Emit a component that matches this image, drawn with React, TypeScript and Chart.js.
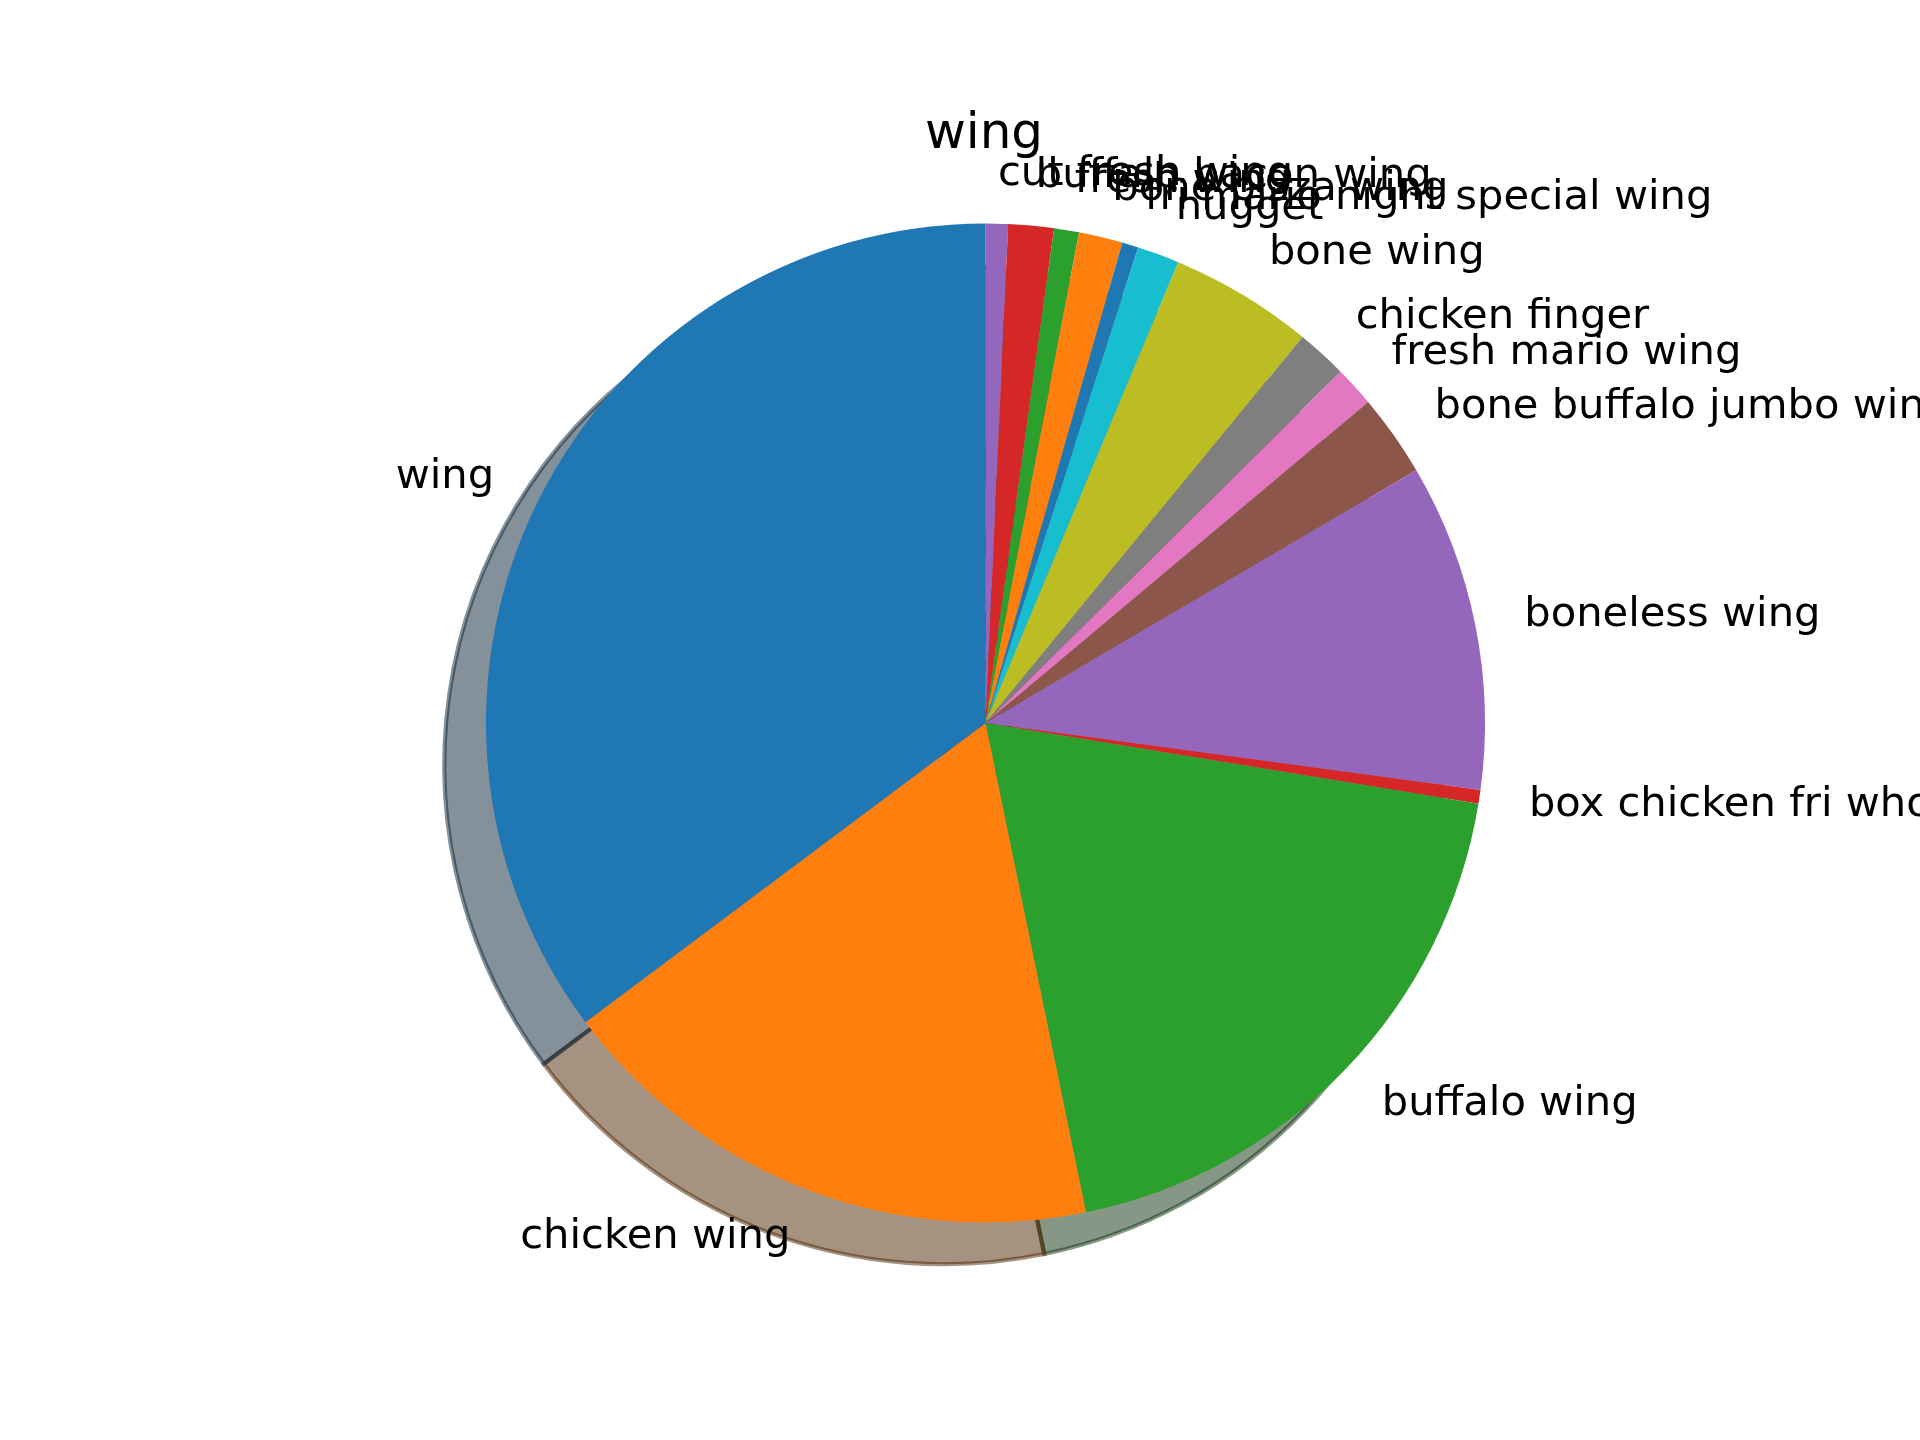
import React, { useEffect, useRef } from "react";
import { Chart, registerables } from "chart.js";

Chart.register(...registerables);

// Slices in matplotlib order (counter-clockwise from 12 o'clock)
const categories: string[] = [
  "wing",
  "chicken wing",
  "buffalo wing",
  "box chicken fri whole wing",
  "boneless wing",
  "bone buffalo jumbo wing",
  "fresh mario wing",
  "chicken finger",
  "bone wing",
  "nugget",
  "fri mario night special wing",
  "bone pizza wing",
  "fresh wing",
  "buffalo bacon wing",
  "cut fresh wing",
];
const values: number[] = [126.8, 64.8, 69.1, 1.6, 38.1, 9.6, 4.7, 5.9, 16.7, 4.9, 1.9, 5.1, 2.9, 5.3, 2.6];
const colors: string[] = [
  "#1f77b4", "#ff7f0e", "#2ca02c", "#d62728", "#9467bd",
  "#8c564b", "#e377c2", "#7f7f7f", "#bcbd22", "#17becf",
  "#1f77b4", "#ff7f0e", "#2ca02c", "#d62728", "#9467bd",
];
const chartTitle = "wing";

const W = 1920;
const H = 1440;
const FONT = "'DejaVu Sans', sans-serif";
const LABEL_SIZE = 41.67;
const TITLE_SIZE = 50;
const SHADOW_DX = -41.7;
const SHADOW_DY = 41.7;

function hexToRgb(h: string): number[] {
  const s = h.replace("#", "");
  return [parseInt(s.slice(0, 2), 16), parseInt(s.slice(2, 4), 16), parseInt(s.slice(4, 6), 16)];
}

const mplPiePlugin = {
  id: "mplPie",
  beforeDatasetsDraw(chart: any) {
    const ctx = chart.ctx;
    const meta = chart.getDatasetMeta(0);
    const bg = chart.data.datasets[0].backgroundColor as string[];
    meta.data.forEach((arc: any, i: number) => {
      const p = arc.getProps(["x", "y", "startAngle", "endAngle", "outerRadius"], true);
      const [r, g, b] = hexToRgb(bg[i]);
      const col = `rgba(${(r * 0.3).toFixed(1)},${(g * 0.3).toFixed(1)},${(b * 0.3).toFixed(1)},0.5)`;
      const cx = p.x + SHADOW_DX;
      const cy = p.y + SHADOW_DY;
      ctx.save();
      ctx.beginPath();
      ctx.moveTo(cx, cy);
      ctx.arc(cx, cy, p.outerRadius, p.startAngle, p.endAngle);
      ctx.closePath();
      ctx.fillStyle = col;
      ctx.fill();
      ctx.strokeStyle = col;
      ctx.lineWidth = 4.17;
      ctx.lineJoin = "miter";
      ctx.stroke();
      ctx.restore();
    });
  },
  afterDatasetsDraw(chart: any) {
    const ctx = chart.ctx;
    const meta = chart.getDatasetMeta(0);
    const labels = chart.data.labels as string[];
    ctx.save();
    ctx.font = `${LABEL_SIZE}px ${FONT}`;
    ctx.fillStyle = "#000000";
    ctx.textBaseline = "alphabetic";
    meta.data.forEach((arc: any, i: number) => {
      const p = arc.getProps(["x", "y", "startAngle", "endAngle", "outerRadius"], true);
      const mid = (p.startAngle + p.endAngle) / 2;
      const dx = 1.1 * p.outerRadius * Math.cos(mid);
      const dy = 1.1 * p.outerRadius * Math.sin(mid);
      ctx.textAlign = dx > 0 ? "left" : "right";
      ctx.fillText(labels[i], p.x + dx, p.y + dy + 0.276 * LABEL_SIZE);
    });
    ctx.restore();
  },
  afterDraw(chart: any) {
    const ctx = chart.ctx;
    ctx.save();
    ctx.font = `${TITLE_SIZE}px ${FONT}`;
    ctx.fillStyle = "#000000";
    ctx.textAlign = "center";
    ctx.textBaseline = "alphabetic";
    ctx.fillText(chartTitle, 984, 147.8);
    ctx.restore();
  },
};

export default function App() {
  const ref = useRef<HTMLCanvasElement | null>(null);

  useEffect(() => {
    document.body.style.margin = "0";
    const canvas = ref.current;
    if (!canvas) return;
    // Chart.js draws clockwise from the top; matplotlib drew counter-clockwise,
    // so feed the slices in reverse order.
    const revLabels = [...categories].reverse();
    const revValues = [...values].reverse();
    const revColors = [...colors].reverse();
    const chart = new Chart(canvas, {
      type: "pie",
      data: {
        labels: revLabels,
        datasets: [
          {
            data: revValues,
            backgroundColor: revColors,
            borderWidth: 0,
            hoverOffset: 0,
          },
        ],
      },
      options: {
        animation: false,
        responsive: false,
        devicePixelRatio: 1,
        rotation: 0,
        layout: { padding: { left: 486, right: 435, top: 223.5, bottom: 217.5 } },
        plugins: {
          legend: { display: false },
          tooltip: { enabled: false },
          title: { display: false },
        },
      },
      plugins: [mplPiePlugin],
    });
    return () => chart.destroy();
  }, []);

  return (
    <div style={{ width: W, height: H, background: "#ffffff" }}>
      <canvas ref={ref} width={W} height={H} style={{ display: "block", width: W, height: H }} />
    </div>
  );
}
